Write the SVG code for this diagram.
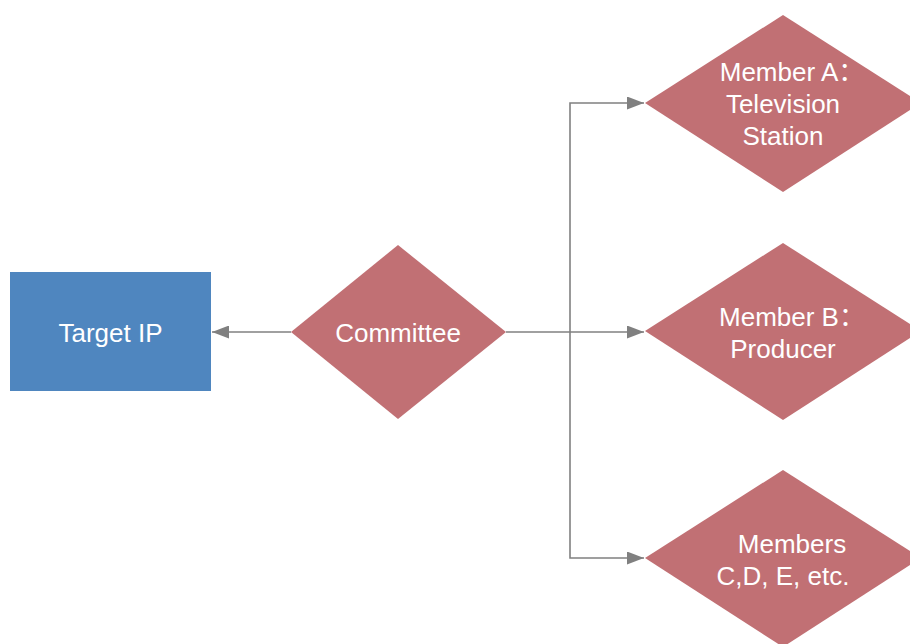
<svg xmlns="http://www.w3.org/2000/svg" width="910" height="644" viewBox="0 0 910 644">
<style>
.d{fill:#C17074}
.t{font-family:"Liberation Sans",Arial,"Noto Sans CJK SC",sans-serif;font-size:26px;fill:#FFFFFF;text-anchor:middle}
.c{fill:none;stroke:#808080;stroke-width:1.6}
</style>
<defs>
<marker id="ah" markerWidth="10" markerHeight="8" refX="10" refY="4" orient="auto" markerUnits="userSpaceOnUse" viewBox="0 0 10 8">
<path d="M0,0 L10,4 L0,8 Z" fill="#808080"/>
</marker>
<marker id="ah2" markerWidth="17" markerHeight="13" refX="17" refY="6.5" orient="auto" markerUnits="userSpaceOnUse" viewBox="0 0 17 13">
<path d="M0,0 L17,6.5 L0,13 Z" fill="#808080"/>
</marker>
</defs>
<rect width="910" height="644" fill="#FFFFFF"/>
<g id="connectors">
<path class="c" d="M291,332 H212" marker-end="url(#ah2)"/>
<path class="c" d="M506,332 H644" marker-end="url(#ah2)"/>
<path class="c" d="M570,332 V103 H644" marker-end="url(#ah2)"/>
<path class="c" d="M570,332 V558 H644" marker-end="url(#ah2)"/>
</g>
<g id="target-ip">
<rect x="10" y="272" width="201" height="119" fill="#4F86BF"/>
<text class="t" x="110.5" y="342">Target IP</text>
</g>
<g id="committee">
<polygon class="d" points="398,245 506,332 398,419 291,332"/>
<text class="t" x="398" y="342">Committee</text>
</g>
<g id="member-a">
<polygon class="d" points="783,15 921,103 783,192 645,103"/>
<text class="t" x="792" y="81">Member A：</text>
<text class="t" x="783" y="113">Television</text>
<text class="t" x="783" y="145">Station</text>
</g>
<g id="member-b">
<polygon class="d" points="783,243 921,331 783,420 645,331"/>
<text class="t" x="792" y="326">Member B：</text>
<text class="t" x="783" y="358">Producer</text>
</g>
<g id="members-cde">
<polygon class="d" points="783,470 921,558 783,647 645,558"/>
<text class="t" x="792" y="553">Members</text>
<text class="t" x="783" y="585">C,D, E, etc.</text>
</g>
</svg>
